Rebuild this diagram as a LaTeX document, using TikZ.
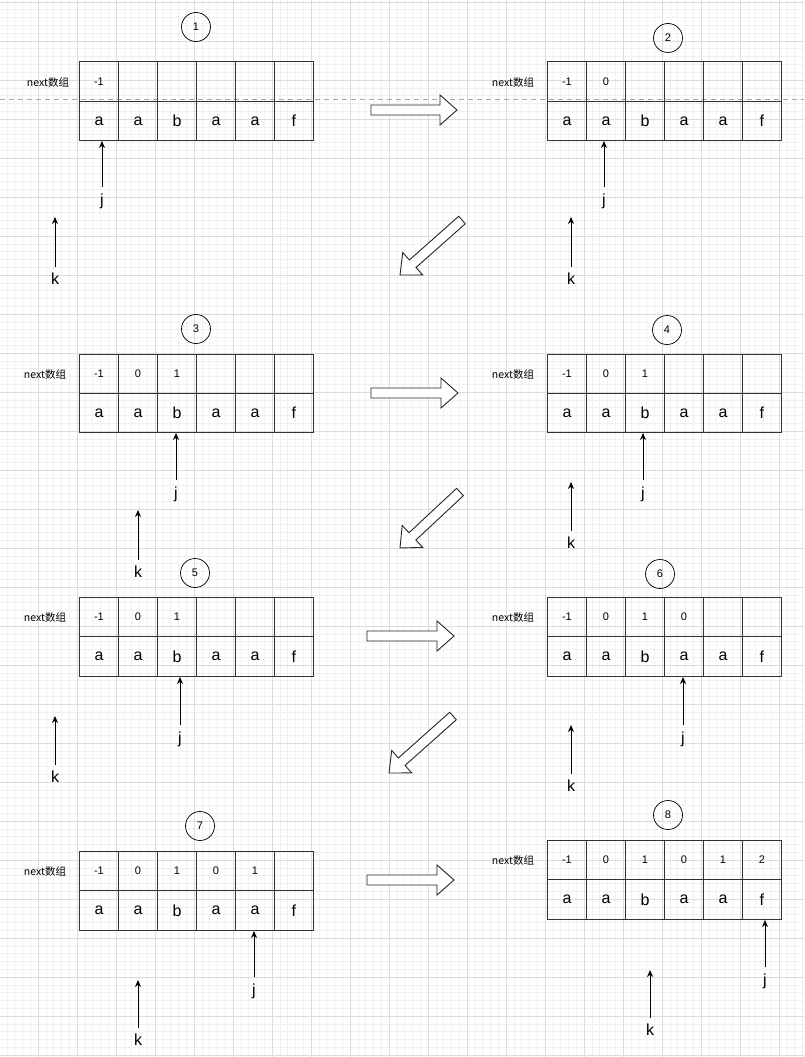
\documentclass[tikz,border=0pt]{standalone}
\usepackage{fontspec}
\setmainfont{Liberation Sans}
\newfontfamily\cjk{Noto Sans CJK SC}
\usetikzlibrary{calc,arrows.meta}
\definecolor{minorgrid}{HTML}{F0F0F0}
\definecolor{majorgrid}{HTML}{DCDCDC}
\definecolor{cellline}{HTML}{333333}
\tikzset{
  cell/.style={draw=cellline,line width=0.9pt,minimum width=39pt,minimum height=39.3pt,inner sep=0pt,anchor=north west,font=\fontsize{16}{18}\selectfont},
  numcell/.style={cell,font=\fontsize{11}{13}\selectfont},
  stepnum/.style={draw,circle,minimum size=29pt,inner sep=0pt,line width=0.7pt,font=\fontsize{11}{13}\selectfont},
  arrlabel/.style={inner sep=1pt,font=\fontsize{16}{18}\selectfont},
  ptr/.style={-{Stealth[length=7pt,width=6pt]},line width=0.8pt},
  nextlabel/.style={inner sep=0pt,font=\fontsize{10.5}{12}\cjk},
  blockarr/.style={draw=black!85,line width=0.9pt,fill=white,line join=miter}
}
\newcommand\drawpanel[7]{% id, x, y, circle x, circle y, label x, values
  \foreach \v [count=\i from 0] in {#7}{
    \node[numcell] (#1n\i) at ({#2+39*\i},#3) {\v};
  }
  \foreach \v [count=\i from 0] in {a,a,b,a,a,f}{
    \node[cell] (#1s\i) at ({#2+39*\i},#3+39.3) {\v};
  }
  \node[stepnum] (#1c) at (#4,#5) {#1};
  \node[nextlabel] (#1l) at (#6,#3+21) {next数组};
}
\newcommand\ptrarrow[5]{% name, x, tip y, label y, text
  \coordinate (#1tip) at (#2,#3);
  \node[arrlabel] (#1) at (#2,#4) {#5};
  \draw[ptr] (#1.north) ++(0,-5) -- (#1tip);
}
\newcommand\blockarrow[5]{% name, x1,y1,x2,y2
  \coordinate (#1a) at (#2,#3);
  \coordinate (#1b) at (#4,#5);
  \coordinate (#1h) at ($(#1b)!17pt!(#1a)$);
  \draw[blockarr] ($(#1a)!5pt!90:(#1b)$) -- ($(#1h)!5pt!-90:(#1a)$) -- ($(#1h)!15pt!-90:(#1a)$) -- (#1b)
     -- ($(#1h)!15pt!90:(#1a)$) -- ($(#1h)!5pt!90:(#1a)$) -- ($(#1a)!5pt!-90:(#1b)$) -- cycle;
}
\begin{document}
\begin{tikzpicture}[x=1pt,y=-1pt]
\useasboundingbox (0,0) rectangle (804,1057);
\fill[white] (0,0) rectangle (804,1057);
\foreach \k in {0,...,103}{
  \draw[minorgrid,line width=0.6pt] ({-1+7.8*\k},0) -- ++(0,1057);
}
\foreach \k in {0,...,136}{
  \draw[minorgrid,line width=0.6pt] (0,{2+7.8*\k}) -- ++(804,0);
}
\foreach \k in {0,...,21}{
  \draw[majorgrid,line width=0.8pt] ({-1+39*\k},0) -- ++(0,1057);
}
\foreach \k in {0,...,27}{
  \draw[majorgrid,line width=0.8pt] (0,{2+39*\k}) -- ++(804,0);
}
\draw[gray!70,line width=0.8pt,dash pattern=on 5pt off 4pt] (0,99) -- (804,99);

\drawpanel{1}{79}{61.5}{196}{27}{48}{-1,{},{},{},{},{}}
\drawpanel{2}{547}{61.5}{668}{38}{513}{-1,0,{},{},{},{}}
\drawpanel{3}{79}{353.5}{196}{329}{45}{-1,0,1,{},{},{}}
\drawpanel{4}{547}{353.5}{667}{330}{513}{-1,0,1,{},{},{}}
\drawpanel{5}{79}{597}{195}{573}{45}{-1,0,1,{},{},{}}
\drawpanel{6}{547}{597}{660}{574}{513}{-1,0,1,0,{},{}}
\drawpanel{7}{79}{851}{200}{826}{45}{-1,0,1,0,1,{}}
\drawpanel{8}{547}{840}{668}{815}{513}{-1,0,1,0,1,2}

\ptrarrow{j1}{102}{141}{201}{j}
\ptrarrow{k1}{55}{217}{279}{k}
\ptrarrow{j2}{604}{141}{201}{j}
\ptrarrow{k2}{571}{217}{279}{k}
\ptrarrow{j3}{176}{433}{494}{j}
\ptrarrow{k3}{138}{510}{572}{k}
\ptrarrow{j4}{643}{433}{494}{j}
\ptrarrow{k4}{571}{482}{543}{k}
\ptrarrow{j5}{180}{677}{739}{j}
\ptrarrow{k5}{55}{716}{777}{k}
\ptrarrow{j6}{683}{677}{739}{j}
\ptrarrow{k6}{571}{725}{786}{k}
\ptrarrow{j7}{254}{931}{991}{j}
\ptrarrow{k7}{138}{980}{1040}{k}
\ptrarrow{j8}{765}{920}{981}{j}
\ptrarrow{k8}{650}{970}{1030}{k}

\blockarrow{r1}{371}{110}{457}{110}
\blockarrow{r2}{371}{393}{458}{393}
\blockarrow{r3}{367}{636}{454}{636}
\blockarrow{r4}{367}{880}{454}{880}
\blockarrow{d1}{462}{220}{400}{275}
\blockarrow{d2}{460}{492}{400}{548}
\blockarrow{d3}{453}{716}{389}{773}
\end{tikzpicture}
\end{document}
